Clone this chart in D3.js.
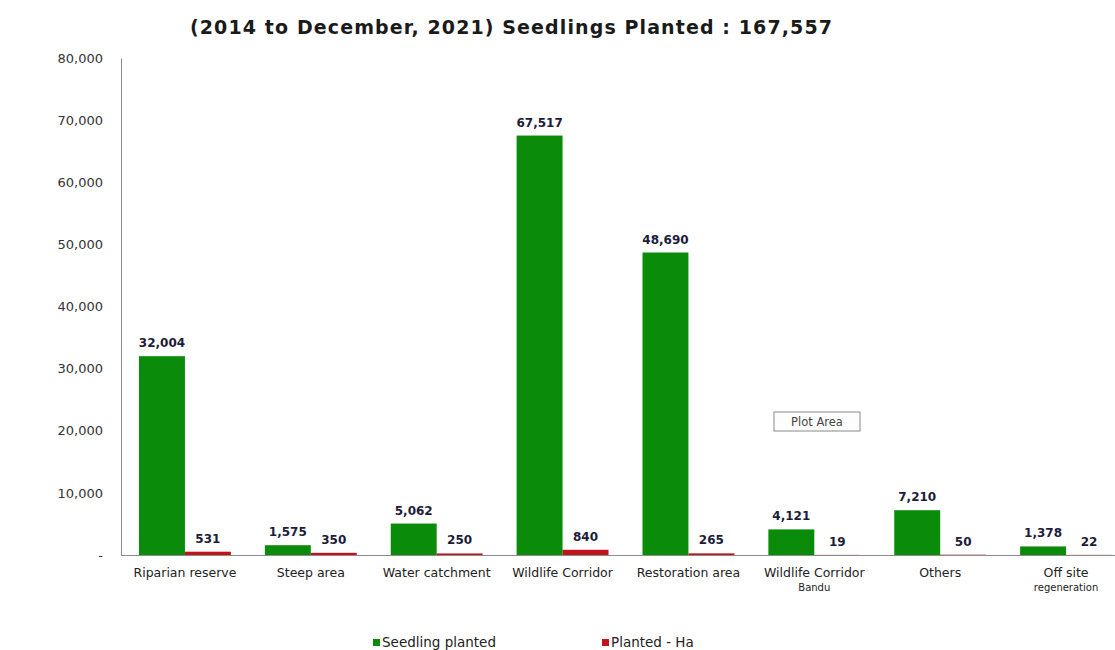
<!DOCTYPE html>
<html>
<head>
<meta charset="utf-8">
<script src="https://cdn.jsdelivr.net/npm/d3@7"></script>
<style>
  body { margin: 0; background: #fff; }
  text { font-family: "DejaVu Sans", Verdana, sans-serif; }
</style>
</head>
<body>
<script>
// data
const categories = [
  ["Riparian reserve"],
  ["Steep area"],
  ["Water catchment"],
  ["Wildlife Corridor"],
  ["Restoration area"],
  ["Wildlife Corridor", "Bandu"],
  ["Others"],
  ["Off site", "regeneration"]
];
const seedlings = [32004, 1575, 5062, 67517, 48690, 4121, 7210, 1378];
const plantedHa = [531, 350, 250, 840, 265, 19, 50, 22];
const yTicks = [0, 10000, 20000, 30000, 40000, 50000, 60000, 70000, 80000];
const seriesNames = ["Seedling planted", "Planted - Ha"];
const colors = ["#0a8c0a", "#c0141c"];

const width = 1115, height = 650;
const svg = d3.select("body").append("svg")
  .attr("width", width).attr("height", height);

const x = d3.scaleBand()
  .domain(d3.range(categories.length))
  .range([122, 1129])
  .paddingInner(0.27)
  .paddingOuter(0.135);

const y = d3.scaleLinear().domain([0, 80000]).range([555, 58]);

const fmt = d3.format(",");

// title
svg.append("text")
  .attr("x", 511).attr("y", 34)
  .attr("text-anchor", "middle")
  .style("font-size", "19px").style("font-weight", "bold")
  .attr("textLength", 642).attr("lengthAdjust", "spacing")
  .attr("fill", "#1a1a1a")
  .text("(2014 to December, 2021) Seedlings Planted : 167,557");

// y axis
const yAxis = svg.append("g")
  .attr("transform", "translate(121,0)")
  .call(d3.axisLeft(y).tickValues(yTicks).tickSize(0).tickPadding(18)
    .tickFormat(d => d === 0 ? "-" : fmt(d)));
yAxis.select(".domain").attr("stroke", "#8c8c8c");
yAxis.selectAll("text").style("font-size", "13px").attr("fill", "#333");

// bars
const half = x.bandwidth() / 2;
const groups = svg.append("g").selectAll("g")
  .data(categories)
  .join("g")
  .attr("transform", (_, i) => `translate(${x(i)},0)`);

groups.append("rect")
  .attr("x", 0).attr("width", half)
  .attr("y", (_, i) => y(seedlings[i]))
  .attr("height", (_, i) => y(0) - y(seedlings[i]))
  .attr("fill", colors[0]);

groups.append("rect")
  .attr("x", half).attr("width", half)
  .attr("y", (_, i) => y(plantedHa[i]))
  .attr("height", (_, i) => y(0) - y(plantedHa[i]))
  .attr("fill", colors[1]);

// value labels
groups.append("text")
  .attr("x", half / 2)
  .attr("y", (_, i) => y(seedlings[i]) - 9)
  .attr("text-anchor", "middle")
  .style("font-size", "12px").style("font-weight", "bold")
  .attr("fill", "#1c1c3a")
  .text((_, i) => fmt(seedlings[i]));

groups.append("text")
  .attr("x", half * 1.5)
  .attr("y", (_, i) => y(plantedHa[i]) - 9)
  .attr("text-anchor", "middle")
  .style("font-size", "12px").style("font-weight", "bold")
  .attr("fill", "#1c1c3a")
  .text((_, i) => fmt(plantedHa[i]));

// x axis
const xAxis = svg.append("g")
  .attr("transform", "translate(0,555)")
  .call(d3.axisBottom(x).tickSize(0).tickFormat(""));
xAxis.select(".domain").attr("stroke", "#8c8c8c").attr("d", "M121,0.5H1115");

groups.each(function (lines) {
  const t = d3.select(this).append("text")
    .attr("text-anchor", "middle")
    .attr("fill", "#222");
  lines.forEach((ln, k) => {
    t.append("tspan")
      .attr("x", half).attr("y", 577 + k * 14)
      .style("font-size", k ? "10px" : "12.5px")
      .text(ln);
  });
});

// plot area tooltip artefact
const tip = svg.append("g").attr("transform", "translate(774,412)");
tip.append("rect").attr("width", 86).attr("height", 19)
  .attr("fill", "#fdfdfd").attr("stroke", "#888").attr("stroke-width", 1);
tip.append("text").attr("x", 43).attr("y", 14).attr("text-anchor", "middle")
  .style("font-size", "11.5px").attr("fill", "#444").text("Plot Area");

// legend
const legend = svg.append("g").selectAll("g")
  .data(seriesNames)
  .join("g")
  .attr("transform", (_, i) => `translate(${373 + i * 229},640)`);
legend.append("rect").attr("width", 7).attr("height", 7).attr("y", -1)
  .attr("fill", (_, i) => colors[i]);
legend.append("text").attr("x", 9).attr("y", 7)
  .style("font-size", "13.5px").attr("fill", "#222")
  .text(d => d);
</script>
</body>
</html>
